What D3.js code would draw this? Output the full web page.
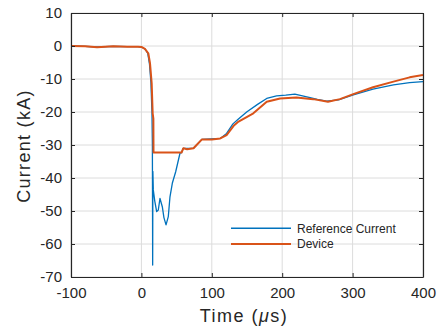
<!DOCTYPE html>
<html>
<head>
<meta charset="utf-8">
<script src="https://cdn.jsdelivr.net/npm/d3@7"></script>
<style>
  body { margin: 0; background: #fff; }
  text { font-family: Arial, "Liberation Sans", sans-serif; fill: #262626; }
</style>
</head>
<body>
<div id="chart-area"></div>
<script>
// reference current (blue)
var refTime = [-100, -80, -63, -40, -20, -5, 0, 5, 9, 11.5, 13.5, 15, 15.6, 16.0, 16.3, 16.9, 19, 21.7, 24, 26.4, 29.7, 32, 35, 38.2, 40.6, 43.9, 48.7, 54.8, 57, 59.5, 74, 86, 112, 121, 130, 137, 150, 165, 178, 192, 205, 218, 235, 250, 263, 280, 301, 329, 358, 381, 400];
var refCurrent = [0, -0.1, -0.3, -0.1, -0.2, -0.2, -0.3, -0.9, -2.2, -5.5, -11, -20, -30, -66.4, -38, -43.6, -47, -50.2, -49.7, -46.2, -48.7, -52, -54.2, -51.7, -45.7, -41.6, -38.1, -32.5, -32.3, -31, -31, -28.3, -28, -26.5, -23.6, -22.3, -19.9, -17.7, -15.9, -15.1, -14.9, -14.6, -15.4, -16.2, -16.7, -16.3, -14.8, -13.1, -11.8, -11.1, -10.8];

// device (orange)
var devTime = [-100, -80, -63, -40, -20, -5, 0, 5, 9.8, 12.2, 14.6, 16, 17, 17.2, 57, 59.5, 65, 74, 86, 100, 112, 121, 131, 138, 159, 178, 197, 220, 244, 265, 282, 301, 329, 358, 381, 400];
var devCurrent = [0, -0.1, -0.4, -0.1, -0.2, -0.2, -0.3, -0.9, -2.2, -5.2, -11.3, -20.4, -22, -32.3, -32.3, -31, -31.3, -31, -28.3, -28.3, -28, -27, -24.2, -22.9, -20.4, -16.9, -15.9, -15.6, -16.1, -16.9, -16.1, -14.6, -12.5, -10.8, -9.5, -8.8];

var xTicks = [-100, 0, 100, 200, 300, 400];
var yTicks = [-70, -60, -50, -40, -30, -20, -10, 0, 10];
var seriesNames = ["Reference Current", "Device"];
var colors = ["#0072BD", "#D95319"];

var width = 439, height = 329;
var m = {left: 71, right: 16, top: 13, bottom: 52};
var w = width - m.left - m.right, h = height - m.top - m.bottom;

var svg = d3.select("#chart-area").append("svg").attr("width", width).attr("height", height);

var x = d3.scaleLinear().domain([-100, 400]).range([0, w]);
var y = d3.scaleLinear().domain([-70, 10]).range([h, 0]);

var g = svg.append("g").attr("transform", "translate(" + m.left + "," + m.top + ")");

// grid
g.selectAll(".vgrid").data(xTicks).enter().append("line")
  .attr("x1", d => x(d)).attr("x2", d => x(d)).attr("y1", 0).attr("y2", h)
  .attr("stroke", "#dcdcdc").attr("stroke-width", 1);
g.selectAll(".hgrid").data(yTicks).enter().append("line")
  .attr("x1", 0).attr("x2", w).attr("y1", d => y(d)).attr("y2", d => y(d))
  .attr("stroke", "#dcdcdc").attr("stroke-width", 1);

g.append("clipPath").attr("id", "clip").append("rect").attr("width", w).attr("height", h);

var line = d3.line().x(d => x(d[0])).y(d => y(d[1]));
var refData = d3.zip(refTime, refCurrent);
var devData = d3.zip(devTime, devCurrent);

g.append("path").datum(refData).attr("d", line).attr("clip-path", "url(#clip)")
  .attr("fill", "none").attr("stroke", colors[0]).attr("stroke-width", 1.3).attr("stroke-linejoin", "round");
g.append("path").datum(devData).attr("d", line).attr("clip-path", "url(#clip)")
  .attr("fill", "none").attr("stroke", colors[1]).attr("stroke-width", 2).attr("stroke-linejoin", "round");

// axes, matlab style inward ticks
var axCol = "#262626";
var fmt = d => String(d); // plain hyphen minus like the original
var xAxis = g.append("g").attr("transform", "translate(0," + h + ")")
  .call(d3.axisBottom(x).tickValues(xTicks).tickFormat(fmt).tickSizeInner(-4).tickSizeOuter(0).tickPadding(10));
var yAxis = g.append("g")
  .call(d3.axisLeft(y).tickValues(yTicks).tickFormat(fmt).tickSizeInner(-4).tickSizeOuter(0).tickPadding(9));
var xTop = g.append("g").call(d3.axisTop(x).tickValues(xTicks).tickSizeInner(-4).tickSizeOuter(0).tickFormat(""));
var yRight = g.append("g").attr("transform", "translate(" + w + ",0)")
  .call(d3.axisRight(y).tickValues(yTicks).tickSizeInner(-4).tickSizeOuter(0).tickFormat(""));

[xAxis, yAxis, xTop, yRight].forEach(function(a) {
  a.select(".domain").attr("stroke", axCol).attr("stroke-width", 1.2);
  a.selectAll(".tick line").attr("stroke", axCol);
  a.selectAll(".tick text").attr("font-size", "15px").attr("font-family", "Arial, 'Liberation Sans', sans-serif").attr("fill", axCol);
});

// labels
svg.append("text").attr("x", m.left + w / 2 - 3).attr("y", 322)
  .attr("text-anchor", "middle").attr("font-size", "18px").attr("letter-spacing", "1.5px")
  .html('Time (<tspan font-style="italic">μ</tspan>s)');
svg.append("text").attr("transform", "translate(30,146) rotate(-90)")
  .attr("text-anchor", "middle").attr("font-size", "18px").attr("letter-spacing", "1.3px")
  .text("Current (kA)");

// legend
var leg = g.append("g");
seriesNames.forEach(function(name, i) {
  var ly = 215.3 + i * 15.7;
  leg.append("line").attr("x1", 160).attr("x2", 220).attr("y1", ly).attr("y2", ly)
    .attr("stroke", colors[i]).attr("stroke-width", i == 0 ? 1.5 : 2);
  leg.append("text").attr("x", 226).attr("y", ly).attr("dy", "0.35em")
    .attr("font-size", "12px").text(name);
});
</script>
</body>
</html>
